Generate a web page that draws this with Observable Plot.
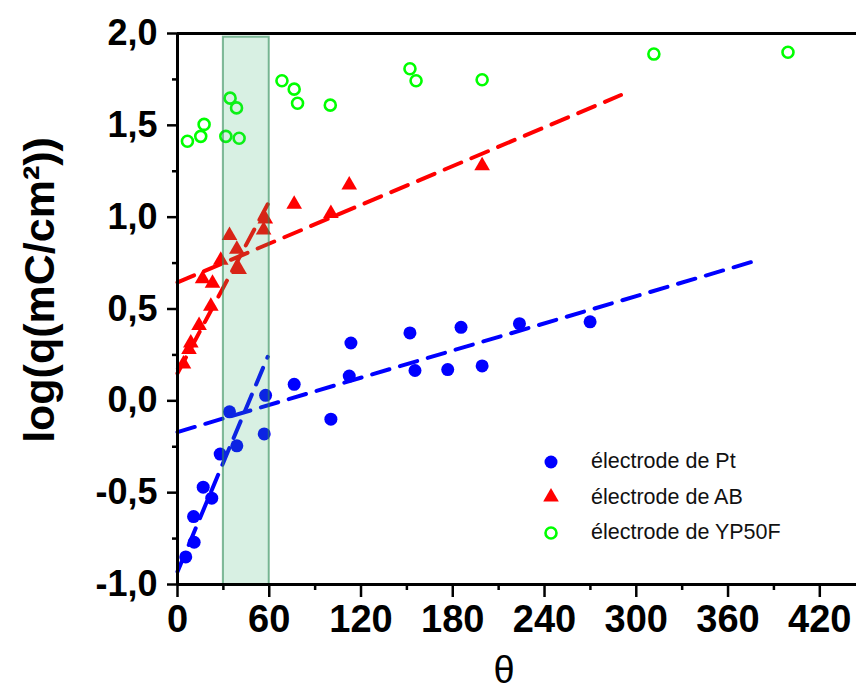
<!DOCTYPE html>
<html>
<head>
<meta charset="utf-8">
<script src="https://cdn.jsdelivr.net/npm/d3@7"></script>
<script src="https://cdn.jsdelivr.net/npm/@observablehq/plot@0.6"></script>
<style>
  html, body { margin: 0; padding: 0; background: white; }
  #wrap { position: relative; width: 856px; height: 691px; overflow: hidden; font-family: "Liberation Sans", Arial, sans-serif; }
  .leg { position: absolute; left: 540px; top: 444px; }
  .row { position: relative; height: 35.5px; display: flex; align-items: center; }
  .row svg { width: 22px; height: 22px; }
  .row span { position: absolute; left: 51px; font-size: 21.5px; color: #111; white-space: nowrap; }
</style>
</head>
<body>
<div id="wrap"></div>
<script>
// ---- data ----
const ptTheta = [5.4, 10.9, 10.5, 16.8, 22.4, 27.9, 34, 38.8, 56.7, 57.6, 76.3, 100.3, 112.3, 113.4, 152, 155.3, 176.7, 185.4, 199.2, 223.6, 269.8];
const ptLogQ  = [-0.85, -0.77, -0.63, -0.47, -0.53, -0.29, -0.06, -0.245, -0.18, 0.03, 0.09, -0.10, 0.135, 0.315, 0.37, 0.165, 0.17, 0.40, 0.19, 0.42, 0.43];

const abTheta = [3.9, 7.5, 8.7, 14.1, 21.8, 16.4, 22.9, 28.3, 34, 38.8, 40.3, 56.3, 57.4, 76.3, 100.3, 112.3, 199.2];
const abLogQ  = [0.20, 0.28, 0.315, 0.41, 0.515, 0.665, 0.64, 0.765, 0.90, 0.825, 0.715, 0.93, 0.99, 1.07, 1.02, 1.175, 1.28];

const ypTheta = [6.5, 15.2, 17.4, 31.6, 40.3, 34.4, 38.6, 68.3, 76.3, 78.5, 99.9, 152, 156, 199.2, 311.5, 399.2];
const ypLogQ  = [1.413, 1.44, 1.505, 1.44, 1.43, 1.648, 1.595, 1.743, 1.697, 1.62, 1.61, 1.808, 1.743, 1.748, 1.888, 1.898];

// dashed fit lines (end points)
const fitSegment = ["Pt-a", "Pt-a", "Pt-b", "Pt-b", "AB-a", "AB-a", "AB-b", "AB-b"];
const fitSeries  = ["Pt", "Pt", "Pt", "Pt", "AB", "AB", "AB", "AB"];
const fitTheta   = [0, 59, 0, 375, 0, 59, 0, 290];
const fitLogQ    = [-0.93, 0.24, -0.17, 0.755, 0.15, 1.07, 0.645, 1.665];

// shaded band
const bandTheta = [30, 60];
const bandLogQ  = [-1, 1.98];

// axes
const xMajor = [0, 60, 120, 180, 240, 300, 360, 420];
const xMinor = [30, 90, 150, 210, 270, 330, 390];
const yMajor = [-1, -0.5, 0, 0.5, 1, 1.5, 2];
const yMinor = [-0.75, -0.25, 0.25, 0.75, 1.25, 1.75];

const seriesNames  = ["Pt", "AB", "YP50F"];
const seriesColors = ["#0000ff", "#ff0000", "#00ff00"];
const legendLabels = ["électrode de Pt", "électrode de AB", "électrode de YP50F"];
const yLabel = "log(q(mC/cm²))";
const xLabel = "θ";

// ---- build tables ----
const pt = ptTheta.map((t, i) => ({theta: t, logq: ptLogQ[i]}));
const ab = abTheta.map((t, i) => ({theta: t, logq: abLogQ[i]}));
const yp = ypTheta.map((t, i) => ({theta: t, logq: ypLogQ[i]}));
const fits = fitTheta.map((t, i) => ({theta: t, logq: fitLogQ[i], seg: fitSegment[i], series: fitSeries[i]}));
const band = [{x1: bandTheta[0], x2: bandTheta[1], y1: bandLogQ[0], y2: bandLogQ[1]}];
const fmt = d => d.toFixed(1).replace(".", ",");

const chart = Plot.plot({
  width: 856,
  height: 691,
  marginLeft: 177,
  marginRight: 0,
  marginTop: 33,
  marginBottom: 107,
  x: {domain: [0, 444], label: null, axis: null},
  y: {domain: [-1, 2], label: null, axis: null},
  color: {domain: seriesNames, range: seriesColors},
  style: {fontFamily: "Liberation Sans, Arial, sans-serif", background: "white", color: "black", overflow: "visible"},
  marks: [
    Plot.dot(yp, {x: "theta", y: "logq", r: 5.5, stroke: seriesColors[2], strokeWidth: 2.6, fill: "none"}),
    Plot.line(fits, {x: "theta", y: "logq", z: "seg", stroke: "series", strokeWidth: 4, strokeDasharray: "18,11"}),
    Plot.dot(pt, {x: "theta", y: "logq", r: 6.5, fill: seriesColors[0]}),
    Plot.dot(ab, {x: "theta", y: "logq", r: 5.8, symbol: "triangle", fill: seriesColors[1]}),
    Plot.rect(band, {x1: "x1", x2: "x2", y1: "y1", y2: "y2", fill: "#3cb371", fillOpacity: 0.2, stroke: "#2e8b57", strokeOpacity: 0.6, strokeWidth: 2}),
    Plot.axisY(yMajor, {tickSize: 10, tickPadding: 10, tickFormat: fmt, fontSize: 36, fontWeight: "bold", strokeWidth: 2.5, label: null}),
    Plot.axisY(yMinor, {tickSize: 5, tickFormat: () => "", strokeWidth: 2.5, label: null}),
    Plot.axisX(xMajor, {tickSize: 13, tickPadding: 8, tickFormat: d => String(d), fontSize: 38, fontWeight: "bold", strokeWidth: 2.5, label: null}),
    Plot.axisX(xMinor, {tickSize: 6, tickFormat: () => "", strokeWidth: 2.5, label: null}),
    Plot.ruleX([0], {stroke: "black", strokeWidth: 3}),
    Plot.ruleY([-1, 2], {stroke: "black", strokeWidth: 3}),
    Plot.text([yLabel], {frameAnchor: "left", rotate: -90, dx: -137, dy: -19, fontSize: 43, fontWeight: "bold", fill: "black", textAnchor: "middle", lineAnchor: "middle"}),
    Plot.text([xLabel], {frameAnchor: "bottom", dx: -13, dy: 86, fontSize: 38, fill: "black", textAnchor: "middle", lineAnchor: "middle"})
  ]
});

const wrap = document.getElementById("wrap");
wrap.appendChild(chart);

// legend
const leg = document.createElement("div");
leg.className = "leg";
const symbols = ["circle", "triangle", "ring"];
seriesNames.forEach((s, i) => {
  const row = document.createElement("div");
  row.className = "row";
  let shape;
  if (symbols[i] === "circle") shape = `<circle cx="11" cy="11" r="6.5" fill="${seriesColors[i]}"/>`;
  else if (symbols[i] === "triangle") shape = `<path d="${d3.symbol(d3.symbolTriangle, Math.PI * 5.8 * 5.8)()}" transform="translate(11,11)" fill="${seriesColors[i]}"/>`;
  else shape = `<circle cx="11" cy="11" r="5.5" fill="none" stroke="${seriesColors[i]}" stroke-width="2.6"/>`;
  row.innerHTML = `<svg viewBox="0 0 22 22">${shape}</svg><span>${legendLabels[i]}</span>`;
  leg.appendChild(row);
});
wrap.appendChild(leg);
</script>
</body>
</html>
